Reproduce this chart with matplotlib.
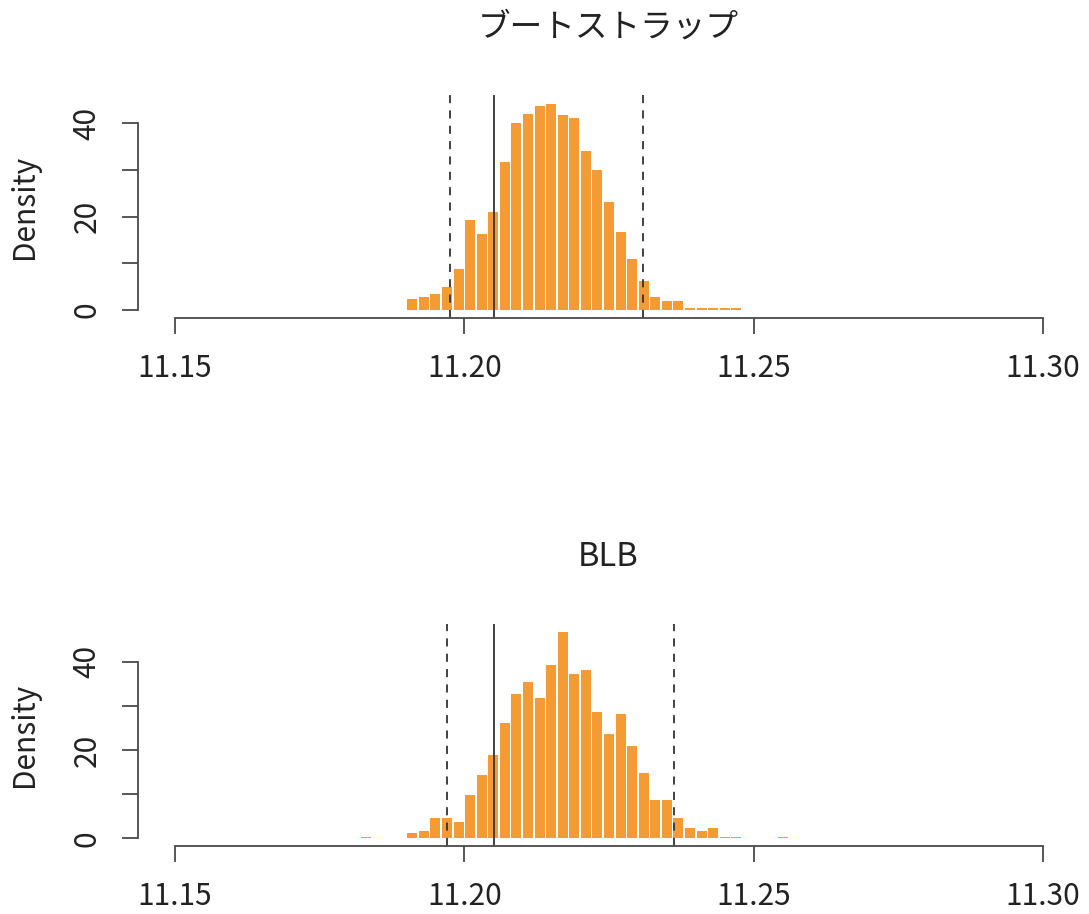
import numpy as np
import matplotlib
matplotlib.use("Agg")
import matplotlib.pyplot as plt

plt.rcParams['font.family'] = ['Noto Sans CJK JP', 'DejaVu Sans']

# --- data (density, bins of width 0.002) ---
bin_width = 0.002

# ブートストラップ : bins 11.190 ... 11.246
boot_left = np.round(np.arange(11.190, 11.2465, bin_width), 3)
boot_density = [2.3, 2.7, 3.5, 4.9, 8.8, 19.3, 16.3, 21.1, 31.8, 40.1,
                42.1, 43.7, 44.1, 41.7, 41.1, 34.1, 30.1, 23.2, 16.7, 10.9,
                6.2, 2.7, 1.9, 1.9, 0.4, 0.4, 0.4, 0.4, 0.4]
boot_ci = [11.1976, 11.2308]

# BLB : bins 11.182 ... 11.254
blb_left = np.round(np.arange(11.182, 11.2545, bin_width), 3)
blb_density = [0.4, 0.0, 0.0, 0.0, 1.3, 1.7, 4.7, 4.7, 3.7, 9.9,
               14.3, 18.8, 26.2, 32.6, 35.3, 31.7, 39.2, 46.6, 37.2, 38.0,
               28.7, 23.7, 28.2, 20.8, 14.8, 8.7, 8.7, 4.7, 2.3, 1.7,
               2.4, 0.4, 0.4, 0.0, 0.0, 0.0, 0.4]
blb_ci = [11.1970, 11.2363]

true_value = 11.2051
titles = ["ブートストラップ", "BLB"]
xticks = [11.15, 11.20, 11.25, 11.30]
yticks = [0, 10, 20, 30, 40]

W, H = 1089, 914
fig = plt.figure(figsize=(W / 100, H / 100), dpi=100)

bar_col = "#F59B34"
axis_col = "#4a4a4a"
text_col = "#222222"
px = 0.15 / 868  # data units per pixel along x
gap = 1.6 * px   # white gap between bars


def panel(top_px, bottom_px, zero_px, unit_px, left, dens, ci, title):
    ax = fig.add_axes([138 / W, 1 - bottom_px / H, (1078 - 138) / W,
                       (bottom_px - top_px) / H])
    # bars drawn narrower than the bin so the white gap shows
    ax.bar(left + gap / 2, dens, width=bin_width - gap, align="edge",
           color=bar_col, linewidth=0)
    for v in ci:
        ax.axvline(v, color="#333333", lw=1.3, linestyle=(0, (4.5, 4)))
    ax.axvline(true_value, color="#333333", lw=1.3)

    ax.set_xlim(11.15 - 37 * px, 11.30 + 35 * px)
    ax.set_ylim(-(bottom_px - zero_px) / unit_px, (zero_px - top_px) / unit_px)

    for s in ["top", "right"]:
        ax.spines[s].set_visible(False)
    ax.spines["left"].set_bounds(0, 40)
    ax.spines["bottom"].set_bounds(11.15, 11.30)
    for s in ["left", "bottom"]:
        ax.spines[s].set_color(axis_col)
        ax.spines[s].set_linewidth(1.3)

    ax.set_xticks(xticks)
    ax.set_xticklabels(["%.2f" % t for t in xticks])
    ax.set_yticks(yticks)
    ax.set_yticklabels(["0", "", "20", "", "40"], rotation=90, va="center")
    ax.tick_params(axis="both", direction="out", length=11.5, width=1.3,
                   color=axis_col, labelcolor=text_col, labelsize=21.5,
                   pad=14)

    fig.text(608 / W, 1 - (top_px - 67) / H, title, ha="center",
             va="center", fontsize=23.5, color=text_col)
    fig.text(25 / W, 1 - (top_px + bottom_px) / 2 / H, "Density",
             rotation=90, ha="center", va="center", fontsize=21.5,
             color=text_col)
    return ax


ax1 = panel(95, 318, 310, 4.667, boot_left, boot_density, boot_ci, titles[0])
ax2 = panel(624, 846, 838.3, 4.417, blb_left, blb_density, blb_ci, titles[1])

fig.savefig("out.png", dpi=100, facecolor="white")
